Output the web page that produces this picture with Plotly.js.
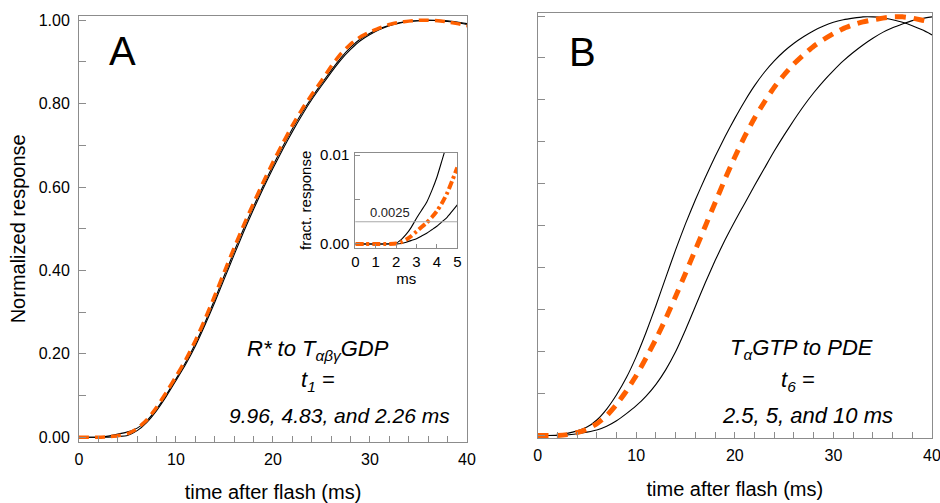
<!DOCTYPE html>
<html>
<head>
<meta charset="utf-8">
<script src="https://cdn.plot.ly/plotly-3.0.1.min.js"></script>
<style>html,body{margin:0;padding:0;background:#fff;}#chart{width:940px;height:503px;}</style>
</head>
<body>
<div id="chart"></div>
<script>
// ---- Panel A : R* to T(abg)GDP, t1 = 9.96, 4.83, 2.26 ms ----
const timeA = [0,1,2,3,4,5,6,7,8,9,10,11,12,13,14,15,16,17,18,19,20,21,22,23,24,25,26,27,28,29,30,31,32,33,34,35,36,37,38,39,40];
const orangeA = [0,0,0,0.001,0.0036,0.0085,0.021,0.042,0.072,0.108,0.146,0.186,0.232,0.284,0.340,0.398,0.455,0.51,0.562,0.612,0.66,0.705,0.748,0.787,0.822,0.855,0.89,0.92,0.943,0.96,0.972,0.982,0.99,0.995,0.998,1.0,1.0,0.999,0.996,0.992,0.987];
const blackA1 = [0,0,0.0001,0.0028,0.0075,0.013,0.022,0.04,0.068,0.102,0.14,0.18,0.225,0.276,0.331,0.389,0.446,0.502,0.554,0.604,0.652,0.697,0.74,0.779,0.815,0.848,0.88,0.91,0.935,0.955,0.969,0.98,0.988,0.994,0.998,0.999,1.0,0.999,0.997,0.994,0.99];
const blackA2 = [0,0,0,0.0004,0.002,0.0044,0.016,0.036,0.064,0.098,0.136,0.175,0.219,0.27,0.324,0.381,0.438,0.494,0.547,0.597,0.645,0.69,0.733,0.773,0.81,0.843,0.875,0.905,0.93,0.951,0.966,0.978,0.987,0.993,0.997,0.999,1.0,1.0,0.999,0.996,0.992];

// ---- Inset of panel A (first 5 ms) ----
const timeInset = [0,0.5,1,1.5,2,2.25,2.5,2.75,3,3.25,3.5,3.75,4,4.25,4.5,4.75,5];
const insetFast = [0,0,0,0,0.0001,0.0005,0.0011,0.0019,0.0029,0.0038,0.0047,0.006,0.0075,0.0094,0.0113,0.013,0.015];
const insetOrange = [0,0,0,0,0.00005,0.0002,0.0005,0.0009,0.0014,0.0019,0.0024,0.003,0.0037,0.0046,0.0057,0.0071,0.0086];
const insetSlow = [0,0,0,0,0,0.00005,0.0002,0.0004,0.0006,0.0009,0.0012,0.0016,0.002,0.0025,0.003,0.0037,0.0044];
const insetRefLevel = [0.0025];

// ---- Panel B : T(a)GTP to PDE, t6 = 2.5, 5, 10 ms ----
const timeB = [0,1,2,3,4,5,6,7,8,9,10,11,12,13,14,15,16,17,18,19,20,21,22,23,24,25,26,27,28,29,30,31,32,33,34,35,36,37,38,39,40];
const blackBfast = [0,0,0.001,0.005,0.011,0.02,0.037,0.063,0.097,0.138,0.188,0.246,0.31,0.377,0.443,0.505,0.562,0.615,0.665,0.712,0.756,0.797,0.834,0.866,0.893,0.916,0.935,0.951,0.965,0.976,0.985,0.991,0.995,0.998,0.998,0.996,0.991,0.985,0.977,0.967,0.955];
const orangeB = [0,0,0,0.002,0.007,0.015,0.028,0.047,0.074,0.106,0.143,0.185,0.23,0.279,0.332,0.387,0.443,0.499,0.555,0.611,0.664,0.713,0.757,0.795,0.83,0.86,0.886,0.908,0.928,0.944,0.958,0.97,0.979,0.986,0.991,0.995,0.998,0.998,0.995,0.99,0.985];
const blackBslow = [0,0,0,0.001,0.004,0.008,0.013,0.022,0.035,0.052,0.071,0.094,0.122,0.157,0.2,0.252,0.308,0.364,0.417,0.466,0.511,0.553,0.596,0.637,0.678,0.716,0.752,0.786,0.817,0.845,0.87,0.893,0.913,0.931,0.947,0.961,0.972,0.981,0.989,0.994,0.998];

const ORANGE = '#ff6000';
const FONT = 'Liberation Sans, Arial, Helvetica, sans-serif';
const GRID = '#8c8c8c';

function line(x, y, xa, ya, color, width, dash) {
  return {x: x, y: y, xaxis: xa, yaxis: ya, type: 'scatter', mode: 'lines',
    line: {color: color, width: width, dash: dash || 'solid', shape: 'spline', smoothing: 0.5},
    hoverinfo: 'skip', showlegend: false};
}

const traces = [
  line(timeA, blackA1, 'x', 'y', '#000', 1.1),
  line(timeA, blackA2, 'x', 'y', '#000', 1.1),
  line(timeA, orangeA, 'x', 'y', ORANGE, 3.5, '10px,6px'),
  line(timeB, blackBfast, 'x2', 'y2', '#000', 1.1),
  line(timeB, blackBslow, 'x2', 'y2', '#000', 1.1),
  line(timeB, orangeB, 'x2', 'y2', ORANGE, 5, '11px,8px'),
  line(timeInset, insetFast, 'x3', 'y3', '#000', 1.1),
  line(timeInset, insetSlow, 'x3', 'y3', '#000', 1.1),
  line(timeInset, insetOrange, 'x3', 'y3', ORANGE, 4, '8px,3px,3px,3px')
];

const baseAxis = {showline: true, mirror: true, linecolor: GRID, linewidth: 1, showgrid: false, zeroline: false,
  ticks: 'inside', tickcolor: GRID, tickwidth: 1, ticklen: 7, tickfont: {family: FONT, size: 16, color: '#000'}};

const layout = {
  width: 940, height: 503,
  margin: {l: 0, r: 0, t: 0, b: 0},
  paper_bgcolor: '#fff', plot_bgcolor: '#fff',
  font: {family: FONT, color: '#000'},
  showlegend: false,
  xaxis: Object.assign({}, baseAxis, {domain: [0.08404, 0.49681], range: [0, 40], dtick: 10, ticklen: 6,
    minor: {dtick: 2, ticks: 'inside', ticklen: 6, tickcolor: GRID},
    ticklabelstandoff: 3,
    title: {text: 'time after flash (ms)', font: {family: FONT, size: 20}, standoff: 18}, anchor: 'y'}),
  yaxis: Object.assign({}, baseAxis, {domain: [0.12187, 0.96819], range: [-0.0106, 1.0103], dtick: 0.2, tickformat: '.2f',
    minor: {dtick: 0.1, ticks: 'inside', ticklen: 7, tickcolor: GRID},
    ticklabelstandoff: 5,
    title: {text: 'Normalized response', font: {family: FONT, size: 20}, standoff: 7}, anchor: 'x'}),
  xaxis2: Object.assign({}, baseAxis, {domain: [0.5720, 0.99149], range: [0, 40], dtick: 10, ticklen: 6,
    minor: {dtick: 2, ticks: 'inside', ticklen: 6, tickcolor: GRID},
    ticklabelstandoff: 3, ticklabeloverflow: 'allow',
    title: {text: 'time after flash (ms)', font: {family: FONT, size: 20}, standoff: 18}, anchor: 'y2'}),
  yaxis2: Object.assign({}, baseAxis, {domain: [0.12863, 0.97475], range: [-0.0067, 1.0079], dtick: 0.1,
    showticklabels: false, anchor: 'x2'}),
  xaxis3: Object.assign({}, baseAxis, {domain: [0.37798, 0.48649], range: [0, 5], dtick: 1, ticklen: 4,
    tickfont: {family: FONT, size: 15, color: '#000'}, ticklabelstandoff: 0,
    title: {text: 'ms', font: {family: FONT, size: 15}, standoff: 0}, anchor: 'y3'}),
  yaxis3: Object.assign({}, baseAxis, {domain: [0.50696, 0.69642], range: [-0.00045, 0.01026],
    tickmode: 'array', tickvals: [0, 0.005, 0.01], ticktext: ['0.00', '', '0.01'], ticklen: 5,
    tickfont: {family: FONT, size: 15, color: '#000'}, ticklabelstandoff: 2,
    title: {text: 'fract. response', font: {family: FONT, size: 15}, standoff: 4}, anchor: 'x3'}),
  shapes: [
    {type: 'line', xref: 'x3 domain', yref: 'y3', x0: 0, x1: 1, y0: insetRefLevel[0], y1: insetRefLevel[0],
     line: {color: '#a8a8a8', width: 1.2}, layer: 'above'}
  ],
  annotations: [
    {xref: 'paper', yref: 'paper', x: 122.5/940, y: 1 - 51/503, text: 'A', showarrow: false,
     font: {family: FONT, size: 40}, xanchor: 'center', yanchor: 'middle'},
    {xref: 'paper', yref: 'paper', x: 582/940, y: 1 - 52/503, text: 'B', showarrow: false,
     font: {family: FONT, size: 40}, xanchor: 'center', yanchor: 'middle'},
    {xref: 'x3', yref: 'y3', x: 1.7, y: insetRefLevel[0], yshift: 9, text: '0.0025', showarrow: false,
     font: {family: FONT, size: 13, color: '#222'}, xanchor: 'center', yanchor: 'middle'},
    {xref: 'paper', yref: 'paper', x: 318/940, y: 1 - 350/503, text: '<i>R* to T<sub>αβγ</sub>GDP</i>', showarrow: false,
     font: {family: FONT, size: 22}, xanchor: 'center', yanchor: 'middle'},
    {xref: 'paper', yref: 'paper', x: 318/940, y: 1 - 381/503, text: '<i>t<sub>1</sub> =</i>', showarrow: false,
     font: {family: FONT, size: 22}, xanchor: 'center', yanchor: 'middle'},
    {xref: 'paper', yref: 'paper', x: 339/940, y: 1 - 415/503, text: '<i>9.96, 4.83, and 2.26 ms</i>', showarrow: false,
     font: {family: FONT, size: 21}, xanchor: 'center', yanchor: 'middle'},
    {xref: 'paper', yref: 'paper', x: 801/940, y: 1 - 349/503, text: '<i>T<sub>α</sub>GTP to PDE</i>', showarrow: false,
     font: {family: FONT, size: 22}, xanchor: 'center', yanchor: 'middle'},
    {xref: 'paper', yref: 'paper', x: 798/940, y: 1 - 381/503, text: '<i>t<sub>6</sub> =</i>', showarrow: false,
     font: {family: FONT, size: 22}, xanchor: 'center', yanchor: 'middle'},
    {xref: 'paper', yref: 'paper', x: 807/940, y: 1 - 415/503, text: '<i>2.5, 5, and 10 ms</i>', showarrow: false,
     font: {family: FONT, size: 22}, xanchor: 'center', yanchor: 'middle'}
  ]
};

Plotly.newPlot('chart', traces, layout, {staticPlot: true, displayModeBar: false});
</script>
</body>
</html>
